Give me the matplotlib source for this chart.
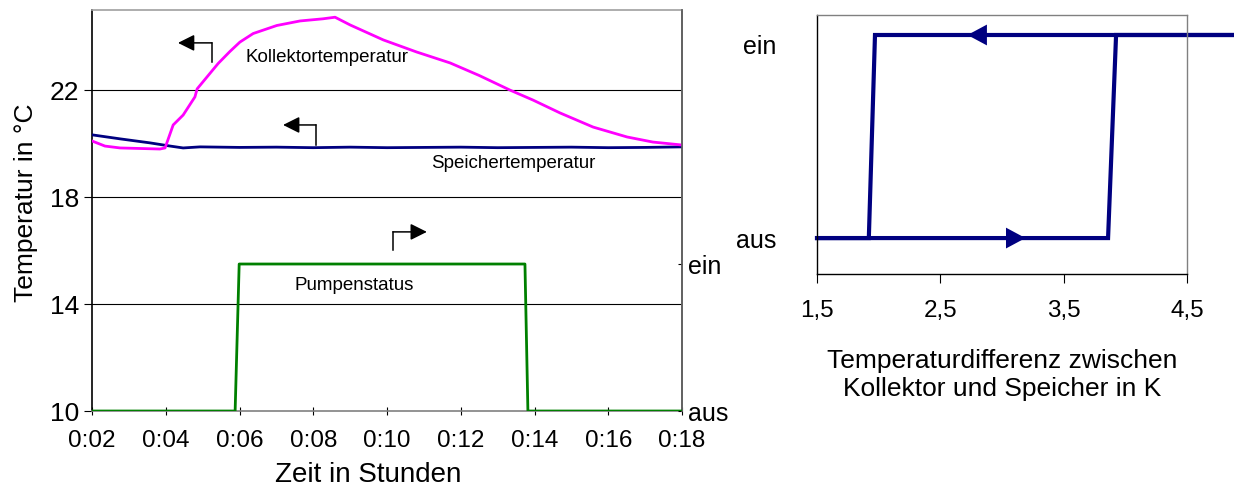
import matplotlib.pyplot as plt

plt.rcParams['font.family'] = ['Liberation Sans', 'DejaVu Sans']

# -----------------------------
# Data: left chart (time in minutes)
# -----------------------------
t_kollektor = [2.0, 2.35, 2.76, 3.3, 3.84, 3.98, 4.2, 4.47, 4.79, 4.85, 5.15, 5.42, 5.74,
               6.01, 6.37, 7.01, 7.64, 8.26, 8.59, 9.0, 9.9, 10.8, 11.71, 12.5, 13.34,
               13.96, 14.69, 15.59, 16.51, 17.21, 18.0]
T_kollektor = [20.10, 19.91, 19.84, 19.82, 19.80, 19.84, 20.70, 21.07, 21.75, 22.05, 22.55, 23.0, 23.45,
               23.80, 24.12, 24.42, 24.59, 24.67, 24.73, 24.44, 23.88, 23.43, 23.02, 22.55, 22.0,
               21.63, 21.15, 20.62, 20.25, 20.06, 19.95]

t_speicher = [2.0, 2.76, 3.57, 4.12, 4.47, 4.93, 6.0, 7.0, 8.0, 9.0, 10.0, 11.0, 12.0,
              13.0, 14.0, 15.0, 16.0, 17.0, 18.0]
T_speicher = [20.33, 20.18, 20.03, 19.91, 19.84, 19.88, 19.86, 19.87, 19.85, 19.87, 19.85, 19.86, 19.87,
              19.85, 19.86, 19.87, 19.85, 19.86, 19.88]

t_pumpe = [2.0, 5.88, 5.99, 13.74, 13.82, 18.0]
pumpe = [0, 0, 1, 1, 0, 0]

x_ticks = [2, 4, 6, 8, 10, 12, 14, 16, 18]
x_ticklabels = [f"0:{m:02d}" for m in x_ticks]
y_ticks = [10, 14, 18, 22]
status_labels = ["aus", "ein"]

# -----------------------------
# Data: right chart (hysteresis)
# -----------------------------
dT_ein = [1.5, 3.86, 3.925, 4.87]
state_ein = [0, 0, 1, 1]
dT_aus = [4.87, 1.97, 1.92, 1.5]
state_aus = [1, 1, 0, 0]
dT_ticks = [1.5, 2.5, 3.5, 4.5]
dT_ticklabels = ["1,5", "2,5", "3,5", "4,5"]

NAVY = "#000080"
MAGENTA = "#FF00FF"
GREEN = "#008000"
GRAY = "#808080"

fig = plt.figure(figsize=(12.34, 4.9), dpi=100)

# -----------------------------
# Left chart
# -----------------------------
ax = fig.add_axes([0.0746, 0.1612, 0.4781, 0.8184])
ax.set_xlim(2, 18)
ax.set_ylim(10, 25)
for y in [14, 18, 22]:
    ax.axhline(y, color="black", lw=0.8, zorder=1)

ax.plot(t_speicher, T_speicher, color=NAVY, lw=2.0, zorder=3)
ax.plot(t_kollektor, T_kollektor, color=MAGENTA, lw=2.0, zorder=4)

ax.set_xticks(x_ticks)
ax.set_xticklabels(x_ticklabels, fontsize=17.5)
ax.set_yticks(y_ticks)
ax.set_yticklabels([str(v) for v in y_ticks], fontsize=19)
ax.tick_params(axis="x", direction="inout", length=6, width=0.8, pad=11)
ax.tick_params(axis="y", direction="out", length=6, width=0.8, pad=3)
ax.set_xlabel("Zeit in Stunden", fontsize=20, labelpad=7, x=0.468)
ax.set_ylabel("Temperatur in °C", fontsize=19, labelpad=9, y=0.52)

ax.spines["left"].set_color("black")
ax.spines["bottom"].set_color(GRAY)
ax.spines["top"].set_color("#a0a0a0")
ax.spines["right"].set_color("#606060")
for s in ax.spines.values():
    s.set_linewidth(1.2)

# pump status on secondary axis
ax2 = ax.twinx()
ax2.set_ylim(0, 2.728)
ax2.plot(t_pumpe, pumpe, color=GREEN, lw=2.0, zorder=3)
ax2.set_yticks([0, 1])
ax2.set_yticklabels(status_labels, fontsize=18)
ax2.tick_params(axis="y", direction="in", length=3, width=0.8, pad=4)
ax2.spines["right"].set_color("#606060")
ax2.spines["right"].set_linewidth(1.2)
for side in ["left", "top", "bottom"]:
    ax2.spines[side].set_visible(False)

# labels with elbow arrows
ax.text(8.37, 23.06, "Kollektortemperatur", fontsize=13.5, ha="center", va="baseline")
ax.text(13.42, 19.09, "Speichertemperatur", fontsize=13.5, ha="center", va="baseline")
ax.text(9.1, 14.53, "Pumpenstatus", fontsize=13.5, ha="center", va="baseline")

arrow_kw = dict(arrowstyle="-|>,head_length=1.0,head_width=0.5", color="black",
                lw=1.1, shrinkA=0, shrinkB=0)
ax.plot([5.25, 5.25], [23.06, 23.77], color="black", lw=1.1)
ax.annotate("", xy=(4.33, 23.77), xytext=(5.25, 23.77), arrowprops=arrow_kw)
ax.plot([8.07, 8.07], [19.95, 20.70], color="black", lw=1.1)
ax.annotate("", xy=(7.18, 20.70), xytext=(8.07, 20.70), arrowprops=arrow_kw)
ax.plot([10.16, 10.16], [16.02, 16.70], color="black", lw=1.1)
ax.annotate("", xy=(11.08, 16.70), xytext=(10.16, 16.70), arrowprops=arrow_kw)

# -----------------------------
# Right chart
# -----------------------------
bx = fig.add_axes([0.6621, 0.4408, 0.2998, 0.5286])
bx.set_xlim(1.5, 4.5)
bx.set_ylim(-0.177, 1.0985)
bx.plot(dT_ein, state_ein, color=NAVY, lw=3.0, clip_on=False, solid_joinstyle="miter")
bx.plot(dT_aus, state_aus, color=NAVY, lw=3.0, clip_on=False, solid_joinstyle="miter")

head_kw = dict(arrowstyle="-|>,head_length=1.4,head_width=0.75", color=NAVY,
               lw=0, shrinkA=0, shrinkB=0)
bx.annotate("", xy=(2.72, 1), xytext=(2.88, 1), arrowprops=head_kw)
bx.annotate("", xy=(3.19, 0), xytext=(3.01, 0), arrowprops=head_kw)

bx.set_xticks(dT_ticks)
bx.set_xticklabels(dT_ticklabels, fontsize=17.5)
bx.set_yticks([0, 1])
bx.set_yticklabels(status_labels, fontsize=18)
bx.get_yticklabels()[1].set_verticalalignment("top")
bx.tick_params(axis="x", direction="out", length=6.5, width=0.8, pad=12)
bx.tick_params(axis="y", length=0, pad=29)
bx.set_xlabel("Temperaturdifferenz zwischen\nKollektor und Speicher in K", fontsize=19, labelpad=20)

bx.spines["left"].set_color("black")
bx.spines["bottom"].set_color("black")
bx.spines["top"].set_color(GRAY)
bx.spines["right"].set_color(GRAY)
for s in bx.spines.values():
    s.set_linewidth(1.0)

plt.savefig("out.png", dpi=100)
